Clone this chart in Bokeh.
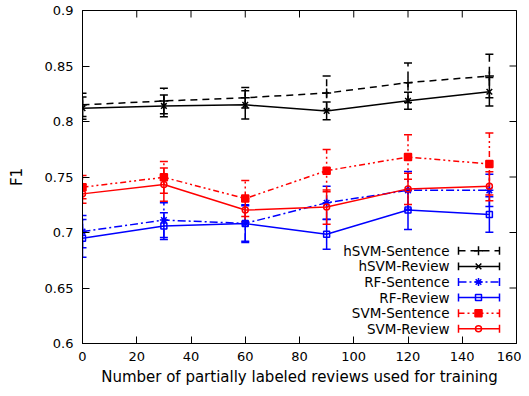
import math
from bokeh.plotting import figure
from bokeh.models import ColumnDataSource, Whisker, TeeHead, Range1d, FixedTicker
from bokeh.core.properties import value
from bokeh.embed import file_html
from bokeh.resources import INLINE

# ---------------- data ----------------
x_vals = [0, 30, 60, 90, 120, 150]

series_names = ["hSVM-Sentence", "hSVM-Review", "RF-Sentence", "RF-Review",
                "SVM-Sentence", "SVM-Review"]

hsvm_sentence = [0.815, 0.8185, 0.8214, 0.8256, 0.835, 0.841]
hsvm_sentence_err = [0.0105, 0.0115, 0.0093, 0.0155, 0.0178, 0.0196]

hsvm_review = [0.812, 0.814, 0.815, 0.8095, 0.8187, 0.8268]
hsvm_review_err = [0.010, 0.0098, 0.0127, 0.008, 0.0077, 0.0128]

rf_sentence = [0.7008, 0.7112, 0.7082, 0.7268, 0.738, 0.738]
rf_sentence_err = [0.0146, 0.0156, 0.016, 0.0148, 0.017, 0.0145]

rf_review = [0.6948, 0.7058, 0.708, 0.6984, 0.7202, 0.7163]
rf_review_err = [0.017, 0.012, 0.017, 0.0134, 0.0174, 0.016]

svm_sentence = [0.7408, 0.7497, 0.7306, 0.7557, 0.768, 0.7617]
svm_sentence_err = [0.0105, 0.0143, 0.0162, 0.019, 0.02, 0.028]

svm_review = [0.7348, 0.7432, 0.7202, 0.7229, 0.7393, 0.7417]
svm_review_err = [0.0085, 0.015, 0.0105, 0.0155, 0.014, 0.013]

x_ticks = [0, 20, 40, 60, 80, 100, 120, 140, 160]
x_tick_labels = ["0", "20", "40", "60", "80", "100", "120", "140", "160"]
y_ticks = [0.6, 0.65, 0.7, 0.75, 0.8, 0.85, 0.9]
y_tick_labels = ["0.6", "0.65", "0.7", "0.75", "0.8", "0.85", "0.9"]

x_label = "Number of partially labeled reviews used for training"
y_label = "F1"

# ---------------- styles ----------------
FONT = "DejaVu Sans"
W, H = 521, 388
ML, MR, MT, MB = 82, 5, 10, 44
FW, FH = W - ML - MR, H - MT - MB
TICK = 7

styles = [
    dict(color="black", dash="7 5", marker="cross", fill=None, size=9),
    dict(color="black", dash="solid", marker="x", fill=None, size=8),
    dict(color="blue", dash="8 3 2 3", marker="asterisk", fill=None, size=8),
    dict(color="blue", dash="solid", marker="square", fill=None, size=6),
    dict(color="red", dash="6 3 2 3 2 3", marker="square", fill="red", size=7),
    dict(color="red", dash="solid", marker="circle", fill=None, size=6),
]
means = [hsvm_sentence, hsvm_review, rf_sentence, rf_review, svm_sentence, svm_review]
errs = [hsvm_sentence_err, hsvm_review_err, rf_sentence_err, rf_review_err,
        svm_sentence_err, svm_review_err]

p = figure(width=W, height=H, x_range=Range1d(0, 160), y_range=Range1d(0.6, 0.9),
           output_backend="svg", toolbar_location=None,
           min_border_left=ML, min_border_right=MR, min_border_top=MT, min_border_bottom=MB)
p.background_fill_color = "white"
p.border_fill_color = "white"
p.outline_line_color = "black"
p.outline_line_width = 1
p.xgrid.visible = False
p.ygrid.visible = False

for ax, ticks, labels in ((p.xaxis[0], x_ticks, x_tick_labels), (p.yaxis[0], y_ticks, y_tick_labels)):
    ax.ticker = FixedTicker(ticks=ticks)
    ax.major_label_overrides = {t: l for t, l in zip(ticks, labels)}
    ax.major_tick_in = TICK
    ax.major_tick_out = 0
    ax.minor_tick_line_color = None
    ax.axis_line_color = "black"
    ax.major_tick_line_color = "black"
    ax.major_label_text_font = FONT
    ax.major_label_text_font_size = "13px"
    ax.major_label_text_color = "black"
    ax.axis_label_text_font = FONT
    ax.axis_label_text_font_size = "15px"
    ax.axis_label_text_font_style = "normal"
    ax.axis_label_text_color = "black"

p.xaxis.major_label_standoff = 8
p.yaxis.major_label_standoff = 9
p.xaxis.axis_label = x_label
p.xaxis.axis_label_standoff = 4
p.yaxis.axis_label = y_label
p.yaxis.axis_label_standoff = 16

# mirrored inward ticks on the top and right edges (clipped to the frame)
p.scatter(x=x_ticks, y=[p.y_range.end] * len(x_ticks), marker="dash", angle=math.pi / 2,
          size=2 * TICK, line_color="black", line_width=1)
p.scatter(x=[p.x_range.end] * len(y_ticks), y=y_ticks, marker="dash",
          size=2 * TICK, line_color="black", line_width=1)

# ---------------- series ----------------
for name, m, e, st in zip(series_names, means, errs, styles):
    src = ColumnDataSource(dict(x=x_vals, y=m,
                                upper=[a + b for a, b in zip(m, e)],
                                lower=[a - b for a, b in zip(m, e)]))
    p.line("x", "y", source=src, line_color=st["color"], line_width=1.5, line_dash=st["dash"])
    wh = Whisker(base="x", upper="upper", lower="lower", source=src, dimension="height",
                 line_color=st["color"], line_width=1.5, line_dash=st["dash"],
                 upper_head=TeeHead(size=8, line_color=st["color"], line_width=1.5),
                 lower_head=TeeHead(size=8, line_color=st["color"], line_width=1.5))
    p.add_layout(wh)
    p.scatter("x", "y", source=src, marker=st["marker"], size=st["size"],
              line_color=st["color"], line_width=1.5,
              fill_color=st["fill"] if st["fill"] else None)

# ---------------- legend (gnuplot style, frame pixel coords) ----------------
p.extra_x_ranges = {"lgx": Range1d(-FW, 0)}
p.extra_y_ranges = {"lgy": Range1d(0, FH)}
row0, step = 93, 15.65
rows = [row0 - i * step for i in range(len(series_names))]
txt_x, l0, l1, mk = -67, -58, -17, -38

p.text(x=[txt_x] * len(series_names), y=rows, text=series_names,
       x_range_name="lgx", y_range_name="lgy",
       text_align="right", text_baseline="middle",
       text_font=value(FONT), text_font_size="13.5px", text_color="black")
for yy, st in zip(rows, styles):
    p.segment(x0=[l0], y0=[yy], x1=[l1], y1=[yy], x_range_name="lgx", y_range_name="lgy",
              line_color=st["color"], line_width=1.5, line_dash=st["dash"])
    p.segment(x0=[l0, l1], y0=[yy - 4, yy - 4], x1=[l0, l1], y1=[yy + 4, yy + 4],
              x_range_name="lgx", y_range_name="lgy",
              line_color=st["color"], line_width=1.5)
    p.scatter(x=[mk], y=[yy], x_range_name="lgx", y_range_name="lgy",
              marker=st["marker"], size=st["size"], line_color=st["color"], line_width=1.5,
              fill_color=st["fill"] if st["fill"] else None)

open("out.html", "w").write(file_html(p, INLINE))
